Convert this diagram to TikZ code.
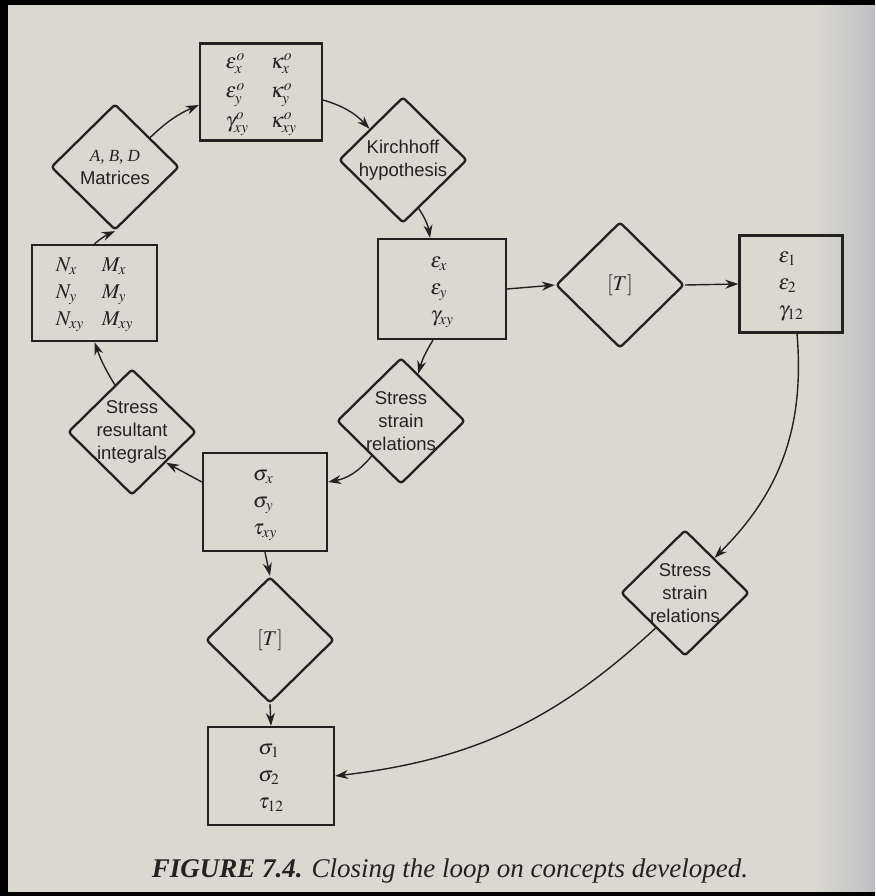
\documentclass[tikz,border=0pt]{standalone}
\usepackage{mathptmx}
\usepackage[no-math]{fontspec}
\setmainfont{Liberation Serif}
\setsansfont{Liberation Sans}
\usetikzlibrary{arrows.meta,shapes.geometric,calc}

\definecolor{paper}{RGB}{219,216,208}
\definecolor{paperedge}{RGB}{188,191,194}
\definecolor{ink}{RGB}{36,34,33}

\begin{document}
\begin{tikzpicture}[x=1pt,y=-1pt,>={Stealth[length=13pt,width=9pt]},
  box/.style={draw=ink,line width=2.3pt,minimum width=124pt,minimum height=98pt,inner sep=0pt,text=ink,font=\fontsize{21}{27}\selectfont},
  dia/.style={diamond,draw=ink,line width=2.3pt,rounded corners=3pt,minimum width=128pt,minimum height=126pt,inner sep=0pt},
  txt/.style={align=center,text=ink,font=\sffamily\fontsize{18.5}{23}\selectfont},
  mtxt/.style={text=ink,font=\fontsize{21}{24}\selectfont},
  every edge/.style={draw=ink,line width=1.4pt,->}]
	  % page
	  \fill[paper] (0,0) rectangle (875,896);
	  \shade[left color=paper,right color=paperedge] (815,0) rectangle (875,896);
	  \fill[black] (0,0) rectangle (875,5);
	  \fill[black] (0,0) rectangle (8,896);
	  \fill[black] (0,892) rectangle (875,896);

	  \node[box,minimum width=122pt,minimum height=97pt,font=\fontsize{21}{29.5}\selectfont] (E0) at (261,92)
	    {$\begin{array}{@{}l@{\hspace{22pt}}l@{}}
	      \varepsilon^o_x & \kappa^o_x\\
	      \varepsilon^o_y & \kappa^o_y\\
	      \gamma^o_{xy} & \kappa^o_{xy}
	    \end{array}$};
	  \node[dia,label={[txt]center:{\rmfamily\itshape\fontsize{17}{23}\selectfont A, B, D}\\Matrices}] (ABD) at (115,167) {};
	  \node[box,minimum width=125pt,minimum height=96pt] (NM) at (94.5,293)
	    {$\begin{array}{@{}l@{\hspace{18pt}}l@{}}
	      N_x & M_x\\
	      N_y & M_y\\
	      N_{xy} & M_{xy}
	    \end{array}$};
	  \node[dia,label={[txt]center:Stress\\resultant\\integrals}] (SR) at (132,432) {};
	  \node[dia,label={[txt]center:Kirchhoff\\hypothesis}] (K) at (403,160) {};
	  \node[box,minimum width=128pt,minimum height=100pt] (E) at (442,289)
	    {$\begin{array}{@{}l@{}}\varepsilon_x\\ \varepsilon_y\\ \gamma_{xy}\end{array}$};
	  \node[dia,label={[mtxt]center:$[T]$}] (T1) at (620,285) {};
	  \node[box,minimum width=103pt,minimum height=97pt] (E12) at (791,284)
	    {$\begin{array}{@{}l@{}}\varepsilon_1\\ \varepsilon_2\\ \gamma_{12}\end{array}$};
	  \node[dia,label={[txt]center:Stress\\strain\\relations}] (SS1) at (401,421) {};
	  \node[box] (S) at (265,502)
	    {$\begin{array}{@{}l@{}}\sigma_x\\ \sigma_y\\ \tau_{xy}\end{array}$};
	  \node[dia,label={[mtxt]center:$[T]$}] (T2) at (270,640) {};
	  \node[box,minimum width=126pt] (S12) at (271,776)
	    {$\begin{array}{@{}l@{}}\sigma_1\\ \sigma_2\\ \tau_{12}\end{array}$};
	  \node[dia,label={[txt]center:Stress\\strain\\relations}] (SS2) at (685,593) {};

	  \node[text=ink,anchor=base,font=\fontsize{27}{30}\selectfont] (cap) at (450,877)
	    {\textbf{\textit{FIGURE 7.4.}} \textit{Closing the loop on concepts developed.}};

	  \path
(NM.north) edge [bend left=8] (ABD.south)
(ABD.40) edge [bend left=10] ($(E0.west)+(0,13)$)
($(E0.east)+(0,8)$) edge [bend left=15] (K.137)
(K.-72) edge [bend left=12] ($(E.north)+(-12,0)$)
(E.east) edge (T1.west)
(T1.east) edge (E12.west)
($(E12.south)+(6,0)$) edge [bend left=25] (SS2.50)
(SS2.-130) edge [bend left=18] (S12.east)
($(E.south)+(-9,0)$) edge [bend right=8] (SS1.70)
(SS1.-130) edge [bend left=20] ($(S.east)+(0,-20)$)
($(S.west)+(0,-20)$) edge (SR.-42)
(SR.110) edge [bend left=6] (NM.south)
(S.south) edge (T2.north)
(T2.south) edge (S12.north)
;
	\end{tikzpicture}
\end{document}
